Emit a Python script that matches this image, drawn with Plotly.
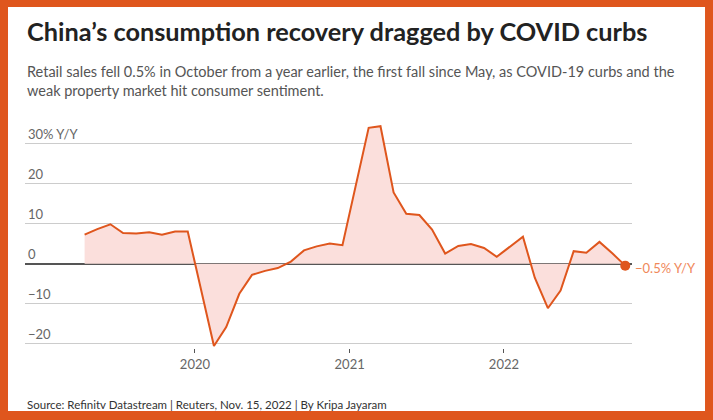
import plotly.graph_objects as go

# China retail sales, % change year on year (Jan-Feb combined, shown at Feb)
months = [
    "2019-04-15", "2019-05-15", "2019-06-15", "2019-07-15", "2019-08-15",
    "2019-09-15", "2019-10-15", "2019-11-15", "2019-12-15",
    "2020-02-15", "2020-03-15", "2020-04-15", "2020-05-15", "2020-06-15",
    "2020-07-15", "2020-08-15", "2020-09-15", "2020-10-15", "2020-11-15",
    "2020-12-15",
    "2021-02-15", "2021-03-15", "2021-04-15", "2021-05-15", "2021-06-15",
    "2021-07-15", "2021-08-15", "2021-09-15", "2021-10-15", "2021-11-15",
    "2021-12-15",
    "2022-02-15", "2022-03-15", "2022-04-15", "2022-05-15", "2022-06-15",
    "2022-07-15", "2022-08-15", "2022-09-15", "2022-10-15",
]
retail_yoy = [
    7.2, 8.6, 9.8, 7.6, 7.5, 7.8, 7.2, 8.0, 8.0,
    -20.5, -15.8, -7.5, -2.8, -1.8, -1.1, 0.5, 3.3, 4.3, 5.0, 4.6,
    33.8, 34.2, 17.7, 12.4, 12.1, 8.5, 2.5, 4.4, 4.9, 3.9, 1.7,
    6.7, -3.5, -11.1, -6.7, 3.1, 2.7, 5.4, 2.5, -0.5,
]
y_ticks = [-20, -10, 0, 10, 20, 30]
y_ticktext = ["\u221220", "\u221210", "0", "10", "20", "30% Y/Y"]
x_ticks = ["2020-01-01", "2021-01-01", "2022-01-01"]
x_ticktext = ["2020", "2021", "2022"]

ORANGE = "#df561d"
FONT = "Lato, 'Noto Sans', sans-serif"

fig = go.Figure()

fig.add_trace(go.Scatter(
    x=months, y=retail_yoy, mode="lines",
    line=dict(color=ORANGE, width=2),
    fill="tozeroy", fillcolor="#fbdfdc",
    hoverinfo="skip",
))
# end point marker
fig.add_trace(go.Scatter(
    x=months[-1:], y=retail_yoy[-1:], mode="markers",
    marker=dict(color=ORANGE, size=10),
    cliponaxis=False, hoverinfo="skip",
))

fig.update_layout(
    width=713, height=420,
    margin=dict(l=25, r=81, t=123, b=72),
    paper_bgcolor=ORANGE, plot_bgcolor="white",
    showlegend=False,
    font=dict(family=FONT, color="#666666", size=13),
    xaxis=dict(
        range=["2018-11-25", "2022-10-31"],
        tickvals=x_ticks, ticktext=x_ticktext,
        showgrid=False, zeroline=False, showline=False,
        ticks="outside", ticklen=4, tickcolor="#555555", tickwidth=1,
        tickfont=dict(size=13, color="#666666"),
    ),
    yaxis=dict(
        range=[-21, 35],
        tickvals=y_ticks, ticktext=y_ticktext,
        ticklabelposition="inside top",
        showgrid=True, gridcolor="#cccccc", gridwidth=1,
        zeroline=True, zerolinecolor="#555555", zerolinewidth=1.5,
        showline=False, ticks="",
        tickfont=dict(size=13, color="#666666"),
    ),
)

# white card inside the orange frame
fig.add_shape(
    type="rect", xref="paper", yref="paper",
    x0=-0.028, x1=1.1203, y0=-0.28, y1=1.5156,
    fillcolor="white", line=dict(width=0), layer="below",
)

fig.add_annotation(
    xref="paper", yref="paper", x=0, y=1.41, xanchor="left", yanchor="middle",
    text="<b>China\u2019s consumption recovery dragged by COVID curbs</b>",
    showarrow=False, font=dict(size=25.3, color="#222222", family=FONT),
)
fig.add_annotation(
    xref="paper", yref="paper", x=0, y=1.275, xanchor="left", yanchor="top",
    align="left",
    text=("Retail sales fell 0.5% in October from a year earlier, the first fall since May, "
          "as COVID-19 curbs and the<br>weak property market hit consumer sentiment."),
    showarrow=False, font=dict(size=14.5, color="#555555", family=FONT),
)
fig.add_annotation(
    x=months[-1], y=retail_yoy[-1], xanchor="left", yanchor="middle",
    xshift=8, yshift=-2,
    text="\u22120.5% Y/Y", showarrow=False,
    font=dict(size=13, color="#f0885a", family=FONT),
)
fig.add_annotation(
    xref="paper", yref="paper", x=0, y=-0.249, xanchor="left", yanchor="middle",
    text="Source: Refinitv Datastream | Reuters, Nov. 15, 2022 | By Kripa Jayaram",
    showarrow=False,
    font=dict(size=11.5, color="#333333", family=FONT),
)

# page has a default 8px body margin; drop it so the figure sits at the corner
fig.write_html("out.html", config={"displayModeBar": False},
               post_script="document.body.style.margin='0';")
